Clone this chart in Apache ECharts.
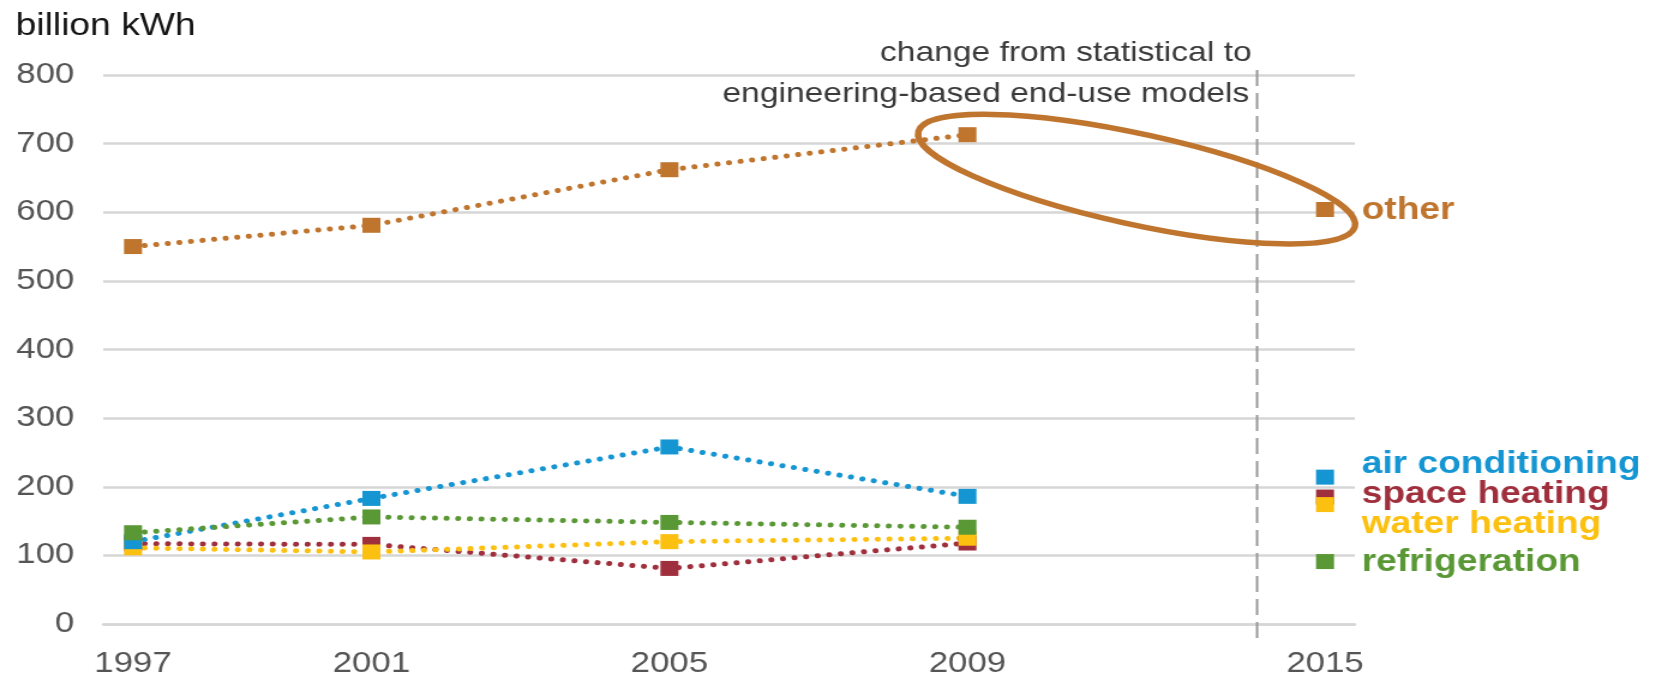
<!DOCTYPE html>
<html>
<head>
<meta charset="utf-8">
<script src="https://cdn.jsdelivr.net/npm/echarts@6/dist/echarts.min.js"></script>
<style>
  html, body { margin: 0; padding: 0; background: #fff; overflow: hidden; }
  /* the chart is laid out narrow and widened horizontally */
  #chart { width: 1380px; height: 675px; transform: scaleX(1.2); transform-origin: 0 0; }
</style>
</head>
<body>
<div id="chart"></div>
<script>
// x-axis slots: survey years sit on an uneven slot grid
const slots = ['1997','','','','2001','','','','','2005','','','','','2009','','','','','','2015'];

// statistical end-use model years (billion kWh)
const surveyYears = ['1997', '2001', '2005', '2009'];
const other           = [550, 581, 662, 713];
const airConditioning = [120, 183, 258, 186];
const spaceHeating    = [117, 116, 81, 118];
const waterHeating    = [111, 105, 120, 125];
const refrigeration   = [133, 156, 148, 141];

// engineering-based end-use model year
const engYear = '2015';
const endUses2015 = ['other', 'space heating', 'water heating', 'air conditioning', 'refrigeration'];
const values2015  = [604, 185, 174, 214, 91];

const yMin = 0, yMax = 800, yStep = 100;
const unitLabel = 'billion kWh';
const noteLines = ['change from statistical to', 'engineering-based end-use models'];
const methodBreakSlot = 18.86;

const COLORS = {
  'other': '#BF752E',
  'air conditioning': '#1596D3',
  'space heating': '#9F2F3C',
  'water heating': '#FCC010',
  'refrigeration': '#5A9835'
};
// vertical nudges keeping the end labels from colliding
const LABEL_DY = { 'other': 1, 'air conditioning': -13, 'space heating': -3, 'water heating': 20, 'refrigeration': 1 };

const FONT = '"Liberation Sans", Arial, sans-serif';
const GRID_COLOR = '#d6d6d6';

const lineDefs = [
  ['other', other],
  ['space heating', spaceHeating],
  ['water heating', waterHeating],
  ['air conditioning', airConditioning],
  ['refrigeration', refrigeration]
];

const series = lineDefs.map(([name, vals]) => ({
  name: name,
  type: 'line',
  data: surveyYears.map((y, i) => [slots.indexOf(y), vals[i]]),
  symbol: 'rect',
  symbolSize: 15,
  showAllSymbol: true,
  itemStyle: { color: COLORS[name], opacity: 1 },
  lineStyle: { color: COLORS[name], width: 5, type: [0.1, 9.6], cap: 'round' },
  emphasis: { disabled: true },
  silent: true,
  z: 3
}));

series.push({
  name: engYear,
  type: 'scatter',
  symbol: 'rect',
  symbolSize: 15,
  silent: true,
  z: 4,
  itemStyle: { opacity: 1 },
  data: endUses2015.map((name, i) => ({
    name: name,
    value: [slots.indexOf(engYear), values2015[i]],
    itemStyle: { color: COLORS[name], opacity: 1 },
    label: {
      show: true,
      position: 'right',
      distance: 23,
      offset: [0, LABEL_DY[name]],
      formatter: '{b}',
      color: COLORS[name],
      opacity: 1,
      fontFamily: FONT,
      fontSize: 31,
      fontWeight: 'bold'
    }
  })),
  emphasis: { disabled: true }
});

const chart = echarts.init(document.getElementById('chart'), null, { renderer: 'canvas' });

chart.setOption({
  animation: false,
  backgroundColor: '#ffffff',
  title: {
    text: unitLabel,
    left: 8,
    top: 6,
    textStyle: { fontFamily: FONT, fontSize: 31, fontWeight: 'normal', color: '#141414' }
  },
  grid: { left: 86, right: 251, top: 75, bottom: 51, containLabel: false, outerBoundsMode: 'none' },
  xAxis: {
    type: 'category',
    data: slots,
    boundaryGap: true,
    axisLine: { show: true, lineStyle: { color: GRID_COLOR, width: 2.5 } },
    axisTick: { show: false },
    splitLine: { show: false },
    axisLabel: {
      interval: 0,
      margin: 25,
      color: '#555555',
      fontFamily: FONT,
      fontSize: 29
    }
  },
  yAxis: {
    type: 'value',
    min: yMin,
    max: yMax,
    interval: yStep,
    axisLine: { show: false },
    axisTick: { show: false },
    splitLine: { show: true, lineStyle: { color: GRID_COLOR, width: 2.5 } },
    axisLabel: {
      margin: 24,
      color: '#555555',
      fontFamily: FONT,
      fontSize: 29
    }
  },
  tooltip: { show: false },
  series: series
});

// method change divider: category slots snap to whole indices, so interpolate between neighbours
const slotLo = Math.floor(methodBreakSlot);
const slotFrac = methodBreakSlot - slotLo;
const pLoTop = chart.convertToPixel({ gridIndex: 0 }, [slotLo, yMax]);
const pHiTop = chart.convertToPixel({ gridIndex: 0 }, [slotLo + 1, yMax]);
const pBottom = chart.convertToPixel({ gridIndex: 0 }, [slotLo, yMin]);
const breakX = pLoTop[0] + (pHiTop[0] - pLoTop[0]) * slotFrac;

// highlight ring around the jump between the two methods for "other"
const p09 = chart.convertToPixel({ gridIndex: 0 }, [slots.indexOf('2009'), other[other.length - 1]]);
const p15 = chart.convertToPixel({ gridIndex: 0 }, [slots.indexOf(engYear), values2015[0]]);
const ringX = (p09[0] + p15[0]) / 2 - 8;
const ringY = (p09[1] + p15[1]) / 2 + 7;

chart.setOption({
  graphic: [
    {
      type: 'line',
      shape: { x1: breakX, y1: pLoTop[1] - 5, x2: breakX, y2: pBottom[1] + 14 },
      style: { stroke: '#9a9a9a', lineWidth: 2, lineDash: [16, 7] },
      silent: true,
      z: 1
    },
    {
      type: 'text',
      right: 1380 - 1043,
      top: 39,
      style: { text: noteLines[0], font: '28px ' + FONT, fill: '#3a3a3a', textAlign: 'right' },
      silent: true
    },
    {
      type: 'text',
      right: 1380 - 1041,
      top: 80,
      style: { text: noteLines[1], font: '28px ' + FONT, fill: '#3a3a3a', textAlign: 'right' },
      silent: true
    },
    {
      type: 'ellipse',
      x: ringX,
      y: ringY,
      rotation: -14.8 * Math.PI / 180,
      shape: { cx: 0, cy: 0, rx: 188, ry: 45 },
      style: { fill: 'none', stroke: COLORS['other'], lineWidth: 5.5 },
      silent: true,
      z: 100
    }
  ]
});
</script>
</body>
</html>
